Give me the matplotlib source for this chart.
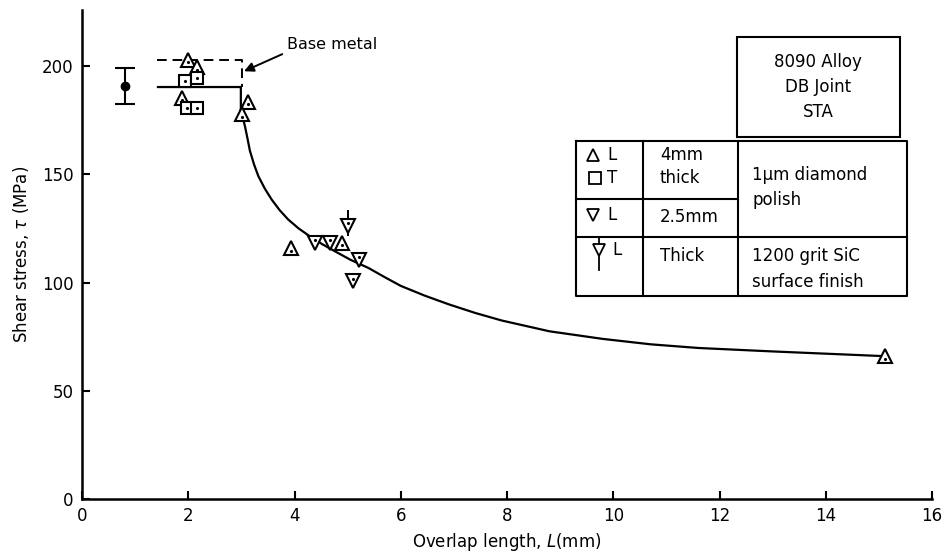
import matplotlib.pyplot as plt
from matplotlib.lines import Line2D
from matplotlib.patches import Rectangle

plt.rcParams['font.family'] = 'DejaVu Sans'
plt.rcParams['mathtext.fontset'] = 'dejavusans'

# -----------------------------
# Data
# -----------------------------
# base metal (mean +/- scatter)
base_L = [0.81]
base_tau = [191]
base_err = [8.3]

# L, 4mm thick (triangle up)
up_L = [2.0, 2.16, 1.88, 3.13, 3.02, 3.94, 4.90, 15.12]
up_tau = [203, 199.5, 185.5, 183.6, 177.8, 116, 118.4, 66]

# T, 4mm thick (square)
sq_L = [1.94, 2.16, 1.98, 2.17]
sq_tau = [193, 194.8, 180.5, 180.5]

# L, 2.5mm (triangle down)
dn_L = [4.39, 4.67, 5.22, 5.11]
dn_tau = [118.4, 118.4, 110.6, 100.6]

# L, thick, 1200 grit SiC (triangle down with stem)
sic_L = [5.0]
sic_tau = [126.4]
sic_top = [133.5]
sic_bot = [121.5]

# fitted curve incl. base metal level
curve_L = [1.43, 2.99, 2.99, 3.03, 3.07, 3.12, 3.16, 3.24, 3.32, 3.44, 3.57,
           3.72, 3.88, 4.08, 4.29, 4.52, 4.76, 5.05, 5.39, 5.7, 6.0, 6.45,
           6.9, 7.4, 7.9, 8.8, 9.8, 10.7, 11.6, 13.0, 15.12]
curve_tau = [190.4, 190.4, 178, 176, 172, 166, 161, 154.5, 149.2, 143.5, 138.4,
             133.5, 129.2, 125, 121.4, 117.8, 114.5, 110.6, 106.8, 102.5, 98.5, 94,
             90, 86, 82.5, 77.5, 74, 71.5, 69.8, 68.2, 66]

# upper bound of base metal (dashed)
dash_L = [1.41, 3.01, 3.01]
dash_tau = [202.8, 202.8, 190.4]

x_ticks = list(range(0, 17, 2))
y_ticks = [0, 50, 100, 150, 200]

# -----------------------------
# Plotting
# -----------------------------
W, H = 942, 558
fig = plt.figure(figsize=(W / 100, H / 100), dpi=100)
ax = fig.add_axes([82 / W, 1 - 499 / H, 850 / W, 489 / H])


def fx(px):
    return px / W


def fy(py):
    return 1 - py / H


mk = dict(mfc='white', mec='black', mew=1.5, ls='none', zorder=4)
dot = dict(marker='.', ms=2.5, color='black', ls='none', zorder=5)

ax.plot(curve_L, curve_tau, color='black', lw=1.6, zorder=2,
        solid_joinstyle='round')
ax.plot(dash_L, dash_tau, color='black', lw=1.4, ls=(0, (5, 3)), zorder=2)

ax.errorbar(base_L, base_tau, yerr=base_err, fmt='o', color='black', ms=6,
            capsize=7, capthick=1.5, elinewidth=1.5, zorder=4)

ax.plot(up_L, up_tau, marker='^', ms=10, **mk)
ax.plot(up_L, [t - 1.2 for t in up_tau], **dot)
ax.plot(sq_L, sq_tau, marker='s', ms=8.5, **mk)
ax.plot(sq_L, sq_tau, **dot)
ax.plot(dn_L, dn_tau, marker='v', ms=10, **mk)
ax.plot(dn_L, [t + 1.2 for t in dn_tau], **dot)
ax.vlines(sic_L, sic_bot, sic_top, color='black', lw=1.4, zorder=3)
ax.plot(sic_L, sic_tau, marker='v', ms=10, **mk)
ax.plot(sic_L, [t + 1.2 for t in sic_tau], **dot)

# base metal label with arrow
ax.annotate('', xy=(3.05, 197.7), xytext=(3.77, 205.6),
            arrowprops=dict(arrowstyle='-|>', color='black', lw=1.4,
                            mutation_scale=14, shrinkA=0, shrinkB=0))
ax.text(3.86, 210, 'Base metal', fontsize=11.5, ha='left', va='center')

ax.set_xlim(0, 16)
ax.set_ylim(0, 226)
ax.set_xticks(x_ticks)
ax.set_yticks(y_ticks)
ax.tick_params(direction='in', length=6, width=1.5, labelsize=12, pad=6)
for s in ['top', 'right']:
    ax.spines[s].set_visible(False)
for s in ['left', 'bottom']:
    ax.spines[s].set_linewidth(1.8)

ax.set_xlabel(r'Overlap length, $L$(mm)', fontsize=12, labelpad=4)
ax.set_ylabel(r'Shear stress, $\tau$ (MPa)', fontsize=12, labelpad=8)

# info box
fig.add_artist(Rectangle((fx(737), fy(137)), fx(900) - fx(737), fy(37) - fy(137),
                         transform=fig.transFigure, fill=False, lw=1.5, ec='black'))
for txt, py in zip(['8090 Alloy', 'DB Joint', 'STA'], [62, 87, 112]):
    fig.text(fx(818), fy(py), txt, ha='center', va='center', fontsize=12)

# legend table
tl, tr, tt, tb = 576, 907, 141, 296
c1, c2 = 643, 738
lines = [
    ([tl, tr, tr, tl, tl], [tt, tt, tb, tb, tt]),
    ([c1, c1], [tt, tb]),
    ([c2, c2], [tt, tb]),
    ([tl, c2], [199, 199]),
    ([tl, tr], [237, 237]),
]
for xs, ys in lines:
    fig.add_artist(Line2D([fx(v) for v in xs], [fy(v) for v in ys],
                          transform=fig.transFigure, color='black', lw=1.5))

sym = dict(mfc='white', mec='black', mew=1.3, transform=fig.transFigure)
fig.add_artist(Line2D([fx(593)], [fy(155)], marker='^', ms=9, **sym))
fig.add_artist(Line2D([fx(595)], [fy(178)], marker='s', ms=8, **sym))
fig.add_artist(Line2D([fx(593)], [fy(215)], marker='v', ms=9, **sym))
fig.add_artist(Line2D([fx(599), fx(599)], [fy(238), fy(270)],
                      transform=fig.transFigure, color='black', lw=1.3))
fig.add_artist(Line2D([fx(599)], [fy(250)], marker='v', ms=9, **sym))

tab_text = [
    (607, 155, 'L'), (607, 178, 'T'), (607, 215, 'L'), (612, 250, 'L'),
    (660, 155, '4mm'), (660, 178, 'thick'), (660, 217, '2.5mm'), (660, 256, 'Thick'),
    (752, 175, '1μm diamond'), (752, 200, 'polish'),
    (752, 256, '1200 grit SiC'), (752, 282, 'surface finish'),
]
for px, py, txt in tab_text:
    fig.text(fx(px), fy(py), txt, ha='left', va='center', fontsize=12)

fig.savefig('out.png', dpi=100)
